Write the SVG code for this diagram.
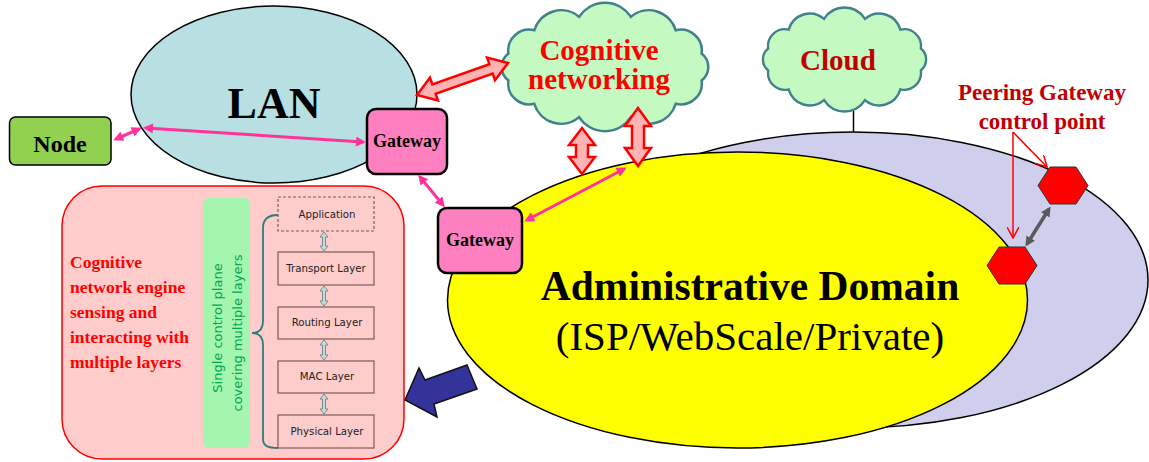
<svg xmlns="http://www.w3.org/2000/svg" xmlns:xlink="http://www.w3.org/1999/xlink" width="1149" height="462" viewBox="0 0 1149 462">
  <style>
    .serif { font-family: "Liberation Serif", "Times New Roman", serif; }
    .sans { font-family: "DejaVu Sans", Verdana, sans-serif; }
    .bold { font-weight: bold; }
    .domain { stroke: #000; stroke-width: 1.5; }
    .cloud { fill: #C4FAC2; stroke: #41808C; }
    .gw { fill: #FF80C0; stroke: #000; stroke-width: 2.5; }
    .pink-link { stroke: #FF3399; stroke-width: 3; fill: none; marker-start: url(#pinkHead); marker-end: url(#pinkHead); }
    .hollow { fill: #FFB3B3; stroke: #FF0000; stroke-width: 2.5; stroke-linejoin: miter; }
    .layer { fill: none; stroke: #7A5C5C; stroke-width: 1.2; }
    .layer-text { font-size: 10.2px; fill: #222; text-anchor: middle; }
    .layer-arrow { fill: #C9DADA; stroke: #6F8F8F; stroke-width: 1; }
    .hex { fill: #FF0000; stroke: #333; stroke-width: 1; }
    .pointer { stroke: #FF0000; stroke-width: 1.5; fill: none; marker-end: url(#openHead); }
  </style>
  <defs>
    <marker id="pinkHead" viewBox="0 0 10 10" refX="7" refY="5" markerWidth="11" markerHeight="10" markerUnits="userSpaceOnUse" orient="auto-start-reverse">
      <path d="M0,0 L10,5 L0,10 z" fill="#FF3399"/>
    </marker>
    <marker id="grayHead" viewBox="0 0 10 10" refX="7" refY="5" markerWidth="10" markerHeight="10" markerUnits="userSpaceOnUse" orient="auto-start-reverse">
      <path d="M0,0 L10,5 L0,10 z" fill="#5A5A5A"/>
    </marker>
    <marker id="openHead" viewBox="0 0 12 12" refX="11" refY="6" markerWidth="12" markerHeight="12" markerUnits="userSpaceOnUse" orient="auto">
      <path d="M0,0 L11,6 L0,12" fill="none" stroke="#FF0000" stroke-width="1.5"/>
    </marker>
    <!-- cloud outline centred on the origin: twelve bumps round an ellipse -->
    <path id="cloudShape" d="M-96.6,13.5 A17,17 0 0 1 -96.6,-13.5 A21,21 0 0 1 -70.7,-36.8 A28,28 0 0 1 -25.9,-50.2 A31,31 0 0 1 25.9,-50.2 A28,28 0 0 1 70.7,-36.8 A21,21 0 0 1 96.6,-13.5 A17,17 0 0 1 96.6,13.5 A21,21 0 0 1 70.7,36.8 A28,28 0 0 1 25.9,50.2 A31,31 0 0 1 -25.9,50.2 A28,28 0 0 1 -70.7,36.8 A21,21 0 0 1 -96.6,13.5 Z"/>
  </defs>

  <!-- outer peering domain -->
  <g id="peer-domain">
    <ellipse cx="853" cy="280" rx="295" ry="148" fill="#CFCFED" class="domain"/>
  </g>

  <!-- administrative domain -->
  <g id="admin-domain">
    <ellipse cx="737.5" cy="300" rx="290" ry="148" fill="#FFFF00" class="domain"/>
    <text x="750" y="300" class="serif bold" font-size="41.5" text-anchor="middle">Administrative Domain</text>
    <text x="750" y="350" class="serif" font-size="41" text-anchor="middle">(ISP/WebScale/Private)</text>
  </g>

  <!-- cloud on top of the peering domain -->
  <g id="cloud">
    <line x1="853.5" y1="111" x2="853.5" y2="132" stroke="#000" stroke-width="1.5"/>
    <use xlink:href="#cloudShape" class="cloud" stroke-width="3" transform="translate(844.5,59.5) scale(0.79,0.81)"/>
    <text x="838" y="70" class="serif bold" font-size="29" fill="#C00000" text-anchor="middle">Cloud</text>
  </g>

  <!-- cognitive networking cloud -->
  <g id="cognitive-networking">
    <use xlink:href="#cloudShape" class="cloud" stroke-width="2.5" transform="translate(605,67)"/>
    <text x="599" y="60" class="serif bold" font-size="29" fill="#FF0000" text-anchor="middle">Cognitive</text>
    <text x="599" y="89" class="serif bold" font-size="29" fill="#FF0000" text-anchor="middle">networking</text>
  </g>

  <!-- LAN -->
  <g id="lan">
    <ellipse cx="274" cy="94.5" rx="143" ry="88.5" fill="#B8DFE2" class="domain"/>
    <text x="274" y="118" class="serif bold" font-size="44" text-anchor="middle">LAN</text>
  </g>

  <g id="node">
    <rect x="9.5" y="117" width="101.5" height="48" rx="6" fill="#92D050" stroke="#000" stroke-width="1.5"/>
    <text x="60" y="152" class="serif bold" font-size="24" text-anchor="middle">Node</text>
  </g>

  <g id="lan-gateway">
    <rect x="367" y="109" width="80" height="65" rx="9" class="gw"/>
    <text x="407" y="147" class="serif bold" font-size="18" text-anchor="middle">Gateway</text>
  </g>

  <g id="admin-gateway">
    <rect x="438" y="208" width="84" height="65" rx="9" class="gw"/>
    <text x="480" y="246" class="serif bold" font-size="18" text-anchor="middle">Gateway</text>
  </g>

  <!-- peering gateway control points -->
  <g id="peering-gateway">
    <text x="1042" y="100" class="serif bold" font-size="23" fill="#C00000" text-anchor="middle">Peering Gateway</text>
    <text x="1042" y="129" class="serif bold" font-size="23" fill="#C00000" text-anchor="middle">control point</text>
    <polygon class="hex" points="1038,185.5 1050,167 1076,167 1088,185.5 1076,204 1050,204"/>
    <polygon class="hex" points="987,265.5 999,247 1025,247 1037,265.5 1025,284 999,284"/>
  </g>

  <!-- cognitive network engine panel -->
  <g id="engine-panel">
    <rect x="62" y="186" width="342" height="273" rx="40" fill="#FFCCCC" stroke="#FF0000" stroke-width="1.5"/>
    <g class="serif bold" font-size="17.5" fill="#FF0000">
      <text x="70" y="268">Cognitive</text>
      <text x="70" y="293">network engine</text>
      <text x="70" y="318">sensing and</text>
      <text x="70" y="343">interacting with</text>
      <text x="70" y="368">multiple layers</text>
    </g>
    <rect x="203" y="198" width="47" height="250" rx="6" fill="#A4F5AE"/>
    <g class="sans" font-size="13" fill="#00A650" text-anchor="middle">
      <text transform="translate(222,328) rotate(-90)">Single control plane</text>
      <text transform="translate(242,333) rotate(-90)">covering multiple layers</text>
    </g>
    <path d="M278,215 C268,215 263,219 263,228 L263,321 C263,329 259,333 252,333 C259,333 263,337 263,345 L263,439 C263,446 268,448 278,448" fill="none" stroke="#2E7D7D" stroke-width="1.8"/>
    <rect x="278" y="197" width="96" height="34" class="layer" stroke-dasharray="3,2"/>
    <rect x="278" y="252" width="96" height="33" class="layer"/>
    <rect x="278" y="307" width="96" height="32" class="layer"/>
    <rect x="278" y="361" width="96" height="32" class="layer"/>
    <rect x="278" y="415" width="96" height="33" class="layer"/>
    <g class="sans">
      <text x="327" y="218" class="layer-text">Application</text>
      <text x="326" y="272" class="layer-text">Transport Layer</text>
      <text x="327" y="326" class="layer-text">Routing Layer</text>
      <text x="327" y="380" class="layer-text">MAC Layer</text>
      <text x="327" y="435" class="layer-text">Physical Layer</text>
    </g>
    <path class="layer-arrow" d="M324,232 L328,237 L325.5,237 L325.5,246 L328,246 L324,251 L320,246 L322.5,246 L322.5,237 L320,237 Z"/>
    <path class="layer-arrow" d="M324,286 L328,291 L325.5,291 L325.5,301 L328,301 L324,306 L320,301 L322.5,301 L322.5,291 L320,291 Z"/>
    <path class="layer-arrow" d="M324,340 L328,345 L325.5,345 L325.5,355 L328,355 L324,360 L320,355 L322.5,355 L322.5,345 L320,345 Z"/>
    <path class="layer-arrow" d="M324,394 L328,399 L325.5,399 L325.5,409 L328,409 L324,414 L320,409 L322.5,409 L322.5,399 L320,399 Z"/>
  </g>

  <!-- connectors -->
  <g id="connectors">
    <line class="pink-link" x1="116" y1="139" x2="139" y2="129"/>
    <line class="pink-link" x1="146" y1="128" x2="363" y2="142"/>
    <line class="pink-link" x1="420" y1="177" x2="443" y2="205"/>
    <line class="pink-link" x1="527" y1="220" x2="624" y2="169"/>

    <!-- hollow block arrows to the cognitive cloud -->
    <polygon class="hollow" transform="translate(417,95) rotate(-19.4)" points="0,0 18,-12 18,-5 78.5,-5 78.5,-12 96.5,0 78.5,12 78.5,5 18,5 18,12"/>
    <polygon class="hollow" transform="translate(582,128) rotate(90)" points="0,0 17,-13 17,-6 29,-6 29,-13 46,0 29,13 29,6 17,6 17,13"/>
    <polygon class="hollow" transform="translate(638,108) rotate(90)" points="0,0 18,-13 18,-6 40,-6 40,-13 58,0 40,13 40,6 18,6 18,13"/>

    <!-- peering pointers -->
    <line class="pointer" x1="1013" y1="132" x2="1013" y2="238"/>
    <line class="pointer" x1="1013" y1="132" x2="1047" y2="167"/>
    <line x1="1049" y1="209" x2="1027" y2="244" stroke="#5A5A5A" stroke-width="3.5" marker-start="url(#grayHead)" marker-end="url(#grayHead)"/>

    <!-- domain feeding the engine -->
    <polygon points="467,365 477,389 434,404 437,417 405,400 419,368 425,380" fill="#333399" stroke="#111" stroke-width="1.5" stroke-linejoin="miter"/>
  </g>
</svg>
